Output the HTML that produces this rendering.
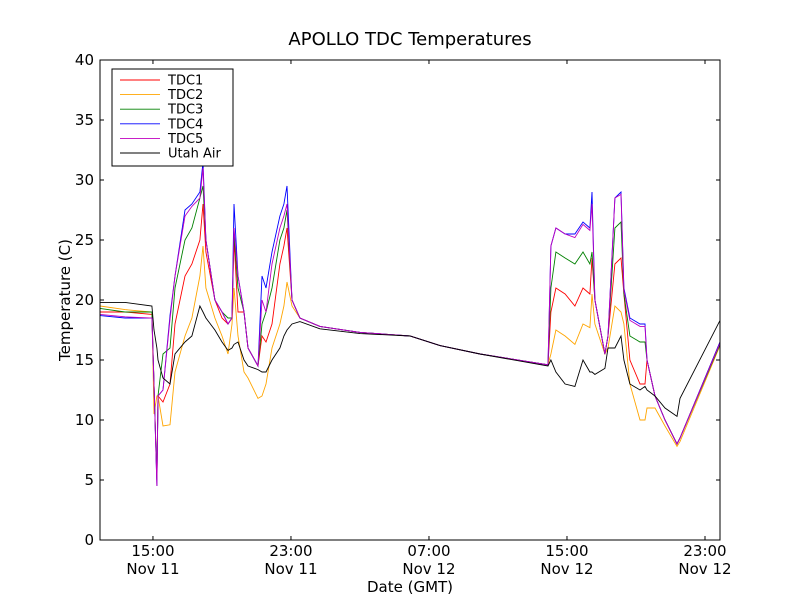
<!DOCTYPE html>
<html><head><meta charset="utf-8"><style>
body{margin:0;background:#fff;}
svg{font-family:"DejaVu Sans","Liberation Sans",sans-serif;}
</style></head><body>
<svg id="chart" width="800" height="600">
<rect width="800" height="600" fill="#fff"/>
<text x="410" y="45" font-size="18" text-anchor="middle">APOLLO TDC Temperatures</text>
<g id="plot"></g>
<text x="410" y="592" font-size="15" text-anchor="middle">Date (GMT)</text>
<text x="70" y="300" font-size="15" text-anchor="middle" transform="rotate(-90 70 300)">Temperature (C)</text>
</svg>
<script>
const times=[11.93,13.38,14.94,15.06,15.23,15.29,15.58,15.99,16.28,16.86,17.26,17.72,17.90,18.07,18.59,19.00,19.35,19.58,19.70,19.93,20.28,20.51,21.09,21.32,21.55,21.90,22.36,22.59,22.77,23.06,23.52,24.68,27.00,29.90,31.64,33.96,37.90,38.07,38.36,38.89,39.46,39.93,40.33,40.45,40.62,41.20,41.38,41.78,42.13,42.30,42.65,43.23,43.52,43.64,44.10,44.68,45.38,45.55,47.87];
const tdc1=[19,19,18.8,13,5,12,11.5,13,18,22,23,25,28,24,20,18.5,18,18.5,25,19,19,16,14.5,17,16.5,18,23,24.5,26,20,18.5,17.8,17.3,17,16.2,15.5,14.6,19,21,20.5,19.5,21,20.5,23.5,20,15.5,17,23,23.5,20.5,15,13,13,15,12,10,8,8.5,16.5];
const tdc2=[19.5,19.2,19,10.5,12,12,9.5,9.6,14,17,18.5,22,24.5,21,18.5,17,15.5,18,21,17,14,13.5,11.8,12,13,16,18,19.5,21.5,19.5,18.5,17.8,17.3,17,16.2,15.5,14.6,15.5,17.5,17,16.3,18,17.7,20.5,18,15.5,16,19.5,19,18,13,10,10,11,11,9.5,7.8,8.2,16.2];
const tdc3=[19.3,19,19,13,5,12,15.5,16,21,25,26,28.5,29.5,25,20,19,18.5,18.5,25.5,21,19,16,14.5,18,19,21,25,26,27.5,20,18.5,17.8,17.3,17,16.2,15.5,14.6,21,24,23.5,23,24,23,24,20,15.5,17,26,26.5,20.5,17,16.5,16.5,15,12,10,8,8.5,16.3];
const tdc4=[18.7,18.5,18.5,13,4.5,12,12.5,18.7,22,27.5,28,29,31.5,25,20,19,18,18.5,28,22,19,16,14.5,22,21,24,27,28,29.5,20,18.5,17.8,17.3,17,16.2,15.5,14.6,24.5,26,25.5,25.5,26.5,26,29,20,15.5,17,28.5,29,21,18.5,18,18,15,12,10,8,8.5,16.5];
const tdc5=[18.8,18.6,18.5,13,4.5,12,12.5,18.4,22,27,27.8,28.5,31,25,20,19,18,18.5,26,22,19,16,14.5,20,19,23,26,27,28,20,18.5,17.8,17.3,17,16.2,15.5,14.6,24.5,26,25.5,25.2,26.3,25.8,28,20,15.5,17,28.5,28.8,20.8,18.3,17.8,17.8,15,12,10,8,8.5,16.4];
const utahAir=[19.8,19.8,19.5,17.5,16,15,13.5,13,15.5,16.5,17,19.5,19,18.5,17.5,16.5,15.8,16,16.3,16.5,15,14.5,14.2,14,14,15,16,17,17.5,18,18.2,17.6,17.2,17,16.2,15.5,14.5,15,14,13,12.8,15,14,14,13.8,14.3,16,16,17,15,13,12.5,12.8,12.5,12,11,10.3,11.8,18.3];
const yTicks=[0,5,10,15,20,25,30,35,40];
const xTicks=[15,23,31,39,47];
const xTickLabels=[["15:00","Nov 11"],["23:00","Nov 11"],["07:00","Nov 12"],["15:00","Nov 12"],["23:00","Nov 12"]];
const seriesNames=["TDC1","TDC2","TDC3","TDC4","TDC5","Utah Air"];
const seriesColors=["red","orange","green","blue","#bf00bf","black"];
const seriesData=[tdc1,tdc2,tdc3,tdc4,tdc5,utahAir];

const L=100,R=720,T=60,B=540,x0=11.93,x1=47.87;
const xs=h=>L+(h-x0)/(x1-x0)*(R-L);
const ys=v=>B-v/40*(B-T);
const NS="http://www.w3.org/2000/svg";
const plot=document.getElementById('plot');
function mk(tag,attrs,parent){const e=document.createElementNS(NS,tag);for(const k in attrs)e.setAttribute(k,attrs[k]);(parent||plot).appendChild(e);return e;}
const clip=mk('clipPath',{id:'pc'});mk('rect',{x:L,y:T,width:R-L,height:B-T},clip);
const lines=mk('g',{'clip-path':'url(#pc)'});


seriesData.forEach((d,i)=>{
  const p=mk('polyline',{points:times.map((t,j)=>xs(t).toFixed(1)+','+ys(d[j]).toFixed(1)).join(' '),fill:'none',stroke:seriesColors[i],'stroke-width':0.9},lines);
  
  
});
const frame=mk('rect',{x:L,y:T,width:R-L,height:B-T,fill:'none',stroke:'#000','stroke-width':1});


yTicks.forEach(v=>{
  const y=ys(v);
  mk('line',{x1:L,x2:L+4,y1:y,y2:y,stroke:'#000'});mk('line',{x1:R-4,x2:R,y1:y,y2:y,stroke:'#000'});
  const t=mk('text',{x:L-6,y:y+5,'font-size':15,'text-anchor':'end'});t.textContent=v;
  
  
});
xTicks.forEach((h,i)=>{
  const x=xs(h);
  mk('line',{x1:x,x2:x,y1:B,y2:B-4,stroke:'#000'});mk('line',{x1:x,x2:x,y1:T,y2:T+4,stroke:'#000'});
  xTickLabels[i].forEach((s,k)=>{const t=mk('text',{x:x,y:556+k*18,'font-size':15,'text-anchor':'middle'});t.textContent=s;
    
    });
});
const lg=mk('g',{});


mk('rect',{x:112,y:69,width:121,height:97,fill:'#fff',stroke:'#000'},lg);
seriesNames.forEach((n,i)=>{
  const y=80+i*14.6;
  const e=mk('g',{},lg);
  
  
  mk('line',{x1:120,x2:160,y1:y,y2:y,stroke:seriesColors[i],'stroke-width':0.9},e);
  const t=mk('text',{x:168,y:y+4.5,'font-size':13},e);t.textContent=n;
});
</script>
</body></html>
